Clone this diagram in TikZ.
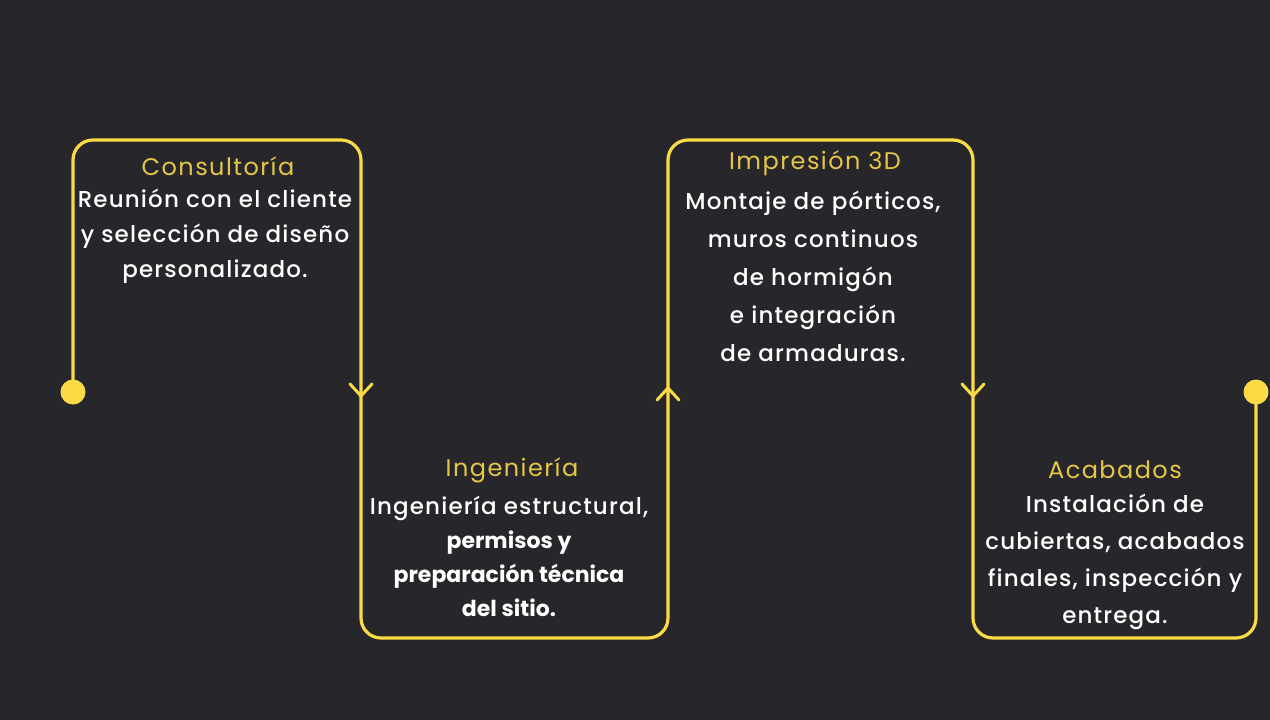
\documentclass[tikz,border=0pt]{standalone}
\usepackage{fontspec}
\setmainfont{Poppins}
\newfontfamily\widefont[LetterSpace=5]{Poppins Medium}
\newfontfamily\widetitle[LetterSpace=6]{Poppins}
\definecolor{bg}{HTML}{27272B}
\definecolor{lineyel}{HTML}{FBDB45}
\definecolor{titleyel}{HTML}{E6C647}
\newcommand{\bline}[1]{{\normalfont\fontsize{22}{34}\selectfont\bfseries #1}}
\begin{document}
\begin{tikzpicture}[x=1pt,y=-1pt,
  flow/.style={draw=lineyel,line width=3.2pt,rounded corners=20pt,line cap=round},
  chev/.style={draw=lineyel,line width=3pt,line cap=round,line join=round},
  dotnode/.style={circle,fill=lineyel,minimum size=25pt,inner sep=0pt},
  ttl/.style={text=titleyel,font=\widetitle\fontsize{24}{26}\selectfont,inner sep=0pt},
  body/.style={text=white,align=center,inner sep=0pt}]
\fill[bg] (0,0) rectangle (1270,720);
\useasboundingbox (0,0) rectangle (1270,720);
% endpoints
\node[dotnode] (start) at (73,392) {};
\node[dotnode] (stop) at (1256,392) {};
\coordinate (c1) at (73,140);
\coordinate (c2) at (361,140);
\coordinate (c3) at (361,638);
\coordinate (c4) at (668,638);
\coordinate (c5) at (668,140);
\coordinate (c6) at (973,140);
\coordinate (c7) at (973,638);
\coordinate (c8) at (1256,638);
\draw[flow] (start.center) -- (c1) -- (c2) -- (c3) -- (c4) -- (c5) -- (c6) -- (c7) -- (c8) -- (stop.center);
% chevrons
\coordinate (a1) at (361,396);
\coordinate (a2) at (668,388);
\coordinate (a3) at (973,396);
\draw[chev] ([shift={(-11,-12)}]a1) -- (a1) -- ([shift={(11,-12)}]a1);
\draw[chev] ([shift={(-11,12)}]a2) -- (a2) -- ([shift={(11,12)}]a2);
\draw[chev] ([shift={(-11,-12)}]a3) -- (a3) -- ([shift={(11,-12)}]a3);
% texts
\node[ttl] (t1) at (218,166) {Consultoría};
\node[body,font=\widefont\fontsize{23}{35}\selectfont] (b1) at (215,236) {Reunión con el cliente\\y selección de diseño\\personalizado.};
\node[ttl] (t2) at (512,470) {Ingeniería};
\node[body,font=\widefont\fontsize{23}{34}\selectfont] (b2) at (509,556) {Ingeniería estructural,\\\bline{permisos y}\\\bline{preparación técnica}\\\bline{del sitio.}};
\node[ttl] (t3) at (815,163) {Impresión 3D};
\node[body,font=\widefont\fontsize{23}{38}\selectfont] (b3) at (813,276) {Montaje de pórticos,\\muros continuos\\de hormigón\\e integración\\de armaduras.};
\node[ttl] (t4) at (1115,470) {Acabados};
\node[body,font=\widefont\fontsize{23}{37}\selectfont] (b4) at (1115,562) {Instalación de\\cubiertas, acabados\\finales, inspección y\\entrega.};
\end{tikzpicture}
\end{document}
